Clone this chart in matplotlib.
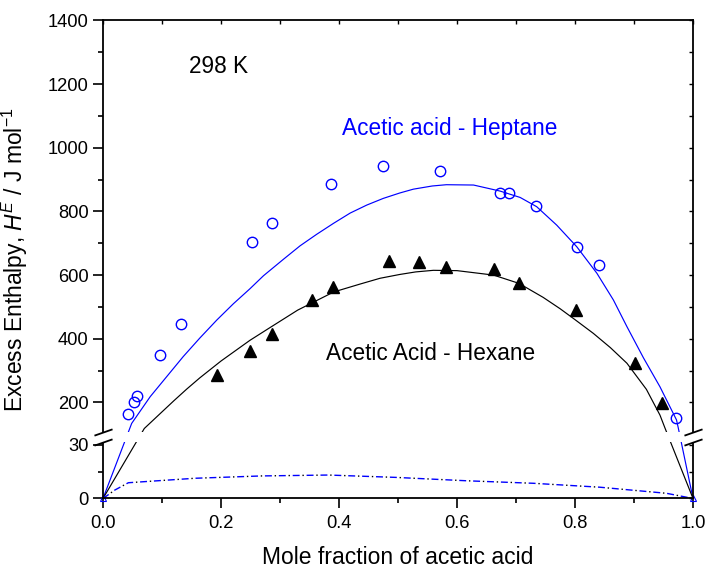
# Excess enthalpy of acetic acid + alkane mixtures at 298 K (broken y axis)

import numpy as np
import matplotlib.pyplot as plt
from matplotlib.transforms import blended_transform_factory
from matplotlib.patches import Rectangle

plt.rcParams['font.family'] = ['Liberation Sans', 'DejaVu Sans']
plt.rcParams['mathtext.fontset'] = 'custom'
plt.rcParams['mathtext.rm'] = 'Liberation Sans'
plt.rcParams['mathtext.it'] = 'Liberation Sans:italic'

# experimental points
heptane_x = [0.042, 0.053, 0.057, 0.097, 0.133, 0.252, 0.286, 0.386, 0.475,
             0.571, 0.673, 0.688, 0.734, 0.803, 0.841, 0.971]
heptane_y = [164, 200, 221, 348, 445, 703, 765, 886, 942,
             926, 859, 859, 816, 689, 632, 150]
hexane_x = [0.194, 0.249, 0.286, 0.354, 0.389, 0.484, 0.536, 0.582, 0.663,
            0.705, 0.802, 0.901, 0.947]
hexane_y = [287, 361, 415, 522, 562, 644, 642, 626, 619,
            576, 490, 323, 199]

# model curves
heptane_fit_x = [0, 0.0486, 0.08, 0.108, 0.136, 0.164, 0.193, 0.221, 0.249,
                 0.272, 0.306, 0.334, 0.362, 0.391, 0.419, 0.447, 0.475, 0.503,
                 0.526, 0.558, 0.582, 0.628, 0.673, 0.707, 0.735, 0.769, 0.803,
                 0.837, 0.865, 0.888, 0.916, 0.944, 0.972, 0.975, 1.0]
heptane_fit_y = [0, 134, 218, 281, 344, 402, 459, 510, 557,
                 598, 650, 692, 728, 763, 795, 820, 841, 858,
                 870, 880, 884, 883, 864, 844, 815, 757, 689,
                 606, 522, 438, 340, 249, 145, 120, 0]
hexane_fit_x = [0, 0.07, 0.097, 0.12, 0.142, 0.164, 0.2, 0.249, 0.283, 0.33,
                0.391, 0.436, 0.4695, 0.503, 0.53, 0.56, 0.6, 0.662, 0.705,
                0.746, 0.775, 0.80, 0.831, 0.86, 0.888, 0.921, 0.944, 0.953, 1.0]
hexane_fit_y = [0, 118, 165, 205, 242, 277, 330, 395, 435, 490,
                547, 572, 590, 602, 610, 615, 614, 600, 574,
                530, 494, 460, 417, 372, 323, 241, 160, 117, 0]

# small contribution curves (lower panel)
low_x = [0, 0.02, 0.043, 0.156, 0.269, 0.382, 0.495, 0.616, 0.729, 0.842, 0.955, 1.0]
heptane_low_y = [0, 4.7, 8.8, 11.3, 12.6, 13.1, 11.8, 9.9, 8.5, 6.3, 2.9, 0]
hexane_low_y = [0, 4.7, 8.8, 11.3, 12.6, 13.1, 11.8, 9.9, 8.5, 6.3, 2.9, 0]
end_x = [0, 1]
end_y = [0, 0]

y_major = [0, 30, 200, 400, 600, 800, 1000, 1200, 1400]
y_minor = [15, 300, 500, 700, 900, 1100, 1300]

# broken axis: values between LO and HI are squeezed into a small gap
LO, HI = 31.6, 107.0


def fwd(v):
    v = np.asarray(v, dtype=float)
    return np.where(v <= LO, v * 1.79,
                    np.where(v >= HI, 66.5 + (v - HI) * 0.3183,
                             56.6 + (v - LO) * 9.9 / (HI - LO)))


def inv(s):
    s = np.asarray(s, dtype=float)
    return np.where(s <= 56.6, s / 1.79,
                    np.where(s >= 66.5, HI + (s - 66.5) / 0.3183,
                             LO + (s - 56.6) * (HI - LO) / 9.9))


fig = plt.figure(figsize=(7.05, 5.71), dpi=100)
ax = fig.add_axes([0.1461, 0.1270, 0.8369, 0.8371])
ax.set_yscale('function', functions=(fwd, inv))

ax.plot(heptane_fit_x, heptane_fit_y, color='blue', lw=0.85)
ax.plot(hexane_fit_x, hexane_fit_y, color='black', lw=0.85)
ax.plot(low_x, heptane_low_y, color='blue', lw=1.0, ls=(0, (5, 5)))
ax.plot(low_x, hexane_low_y, color='black', lw=1.0, ls=(3, (1, 9)))
ax.plot(heptane_x, heptane_y, 'o', ms=7.5, mfc='none', mec='blue', mew=1.0)
ax.plot(hexane_x, hexane_y, '^', ms=9, color='black')
ax.plot(end_x, end_y, '^', ms=4.5, mfc='none', mec='blue', mew=0.8, clip_on=False)

ax.set_xlim(0, 1)
ax.set_ylim(0, 1400)
ax.set_xticks(np.arange(0, 1.01, 0.2))
ax.set_xticks(np.arange(0.1, 1.0, 0.2), minor=True)
ax.set_xticklabels(['0.0', '0.2', '0.4', '0.6', '0.8', '1.0'])
ax.set_yticks(y_major)
ax.set_yticks(y_minor, minor=True)
ax.set_yticklabels([str(v) for v in y_major])
ax.tick_params(which='major', direction='out', length=7, width=1.2, labelsize=13.2)
ax.tick_params(which='minor', direction='out', length=3.6, width=1.2)
ax.tick_params(axis='y', pad=3.5)
ax.tick_params(axis='x', pad=5)
for s in ax.spines.values():
    s.set_linewidth(1.3)

# inward ticks on the right and top
axr = ax.twinx()
axr.set_yscale('function', functions=(fwd, inv))
axr.set_ylim(0, 1400)
axr.set_yticks(y_major)
axr.set_yticks(y_minor, minor=True)
axr.tick_params(which='both', direction='in', length=3, width=1.0, labelright=False)
axt = ax.twiny()
axt.set_xlim(0, 1)
axt.set_xticks(np.arange(0, 1.01, 0.1))
axt.tick_params(which='both', direction='in', length=3, width=1.0, labeltop=False)
for a in (axr, axt):
    for s in a.spines.values():
        s.set_visible(False)

# gap of the break and the slanted break marks
blend = blended_transform_factory(ax.transAxes, ax.transData)
ax.add_patch(Rectangle((-0.012, LO), 1.024, HI - LO, transform=blend,
                       facecolor='white', edgecolor='none', clip_on=False, zorder=5))
brk = [(-1, -0.35), (1, 0.35)]
for xb in (0, 1):
    ax.plot([xb, xb], [LO, HI], ls='none', marker=brk, ms=13, mec='black',
            mew=1.3, transform=blend, clip_on=False, zorder=6)

ax.text(0.146, 1254, '298 K', fontsize=16.3, va='center')
ax.text(0.405, 1062, 'Acetic acid - Heptane', fontsize=16.3, va='center', color='blue')
ax.text(0.378, 355, 'Acetic Acid - Hexane', fontsize=16.3, va='center')

ax.set_xlabel('Mole fraction of acetic acid', fontsize=16.5)
ax.set_ylabel('Excess Enthalpy, $H^E$ / J mol$^{-1}$', fontsize=16.5)
ax.xaxis.set_label_coords(0.5, -0.10)
ax.yaxis.set_label_coords(-0.124, 0.5)

fig.savefig('out.png', dpi=100)
